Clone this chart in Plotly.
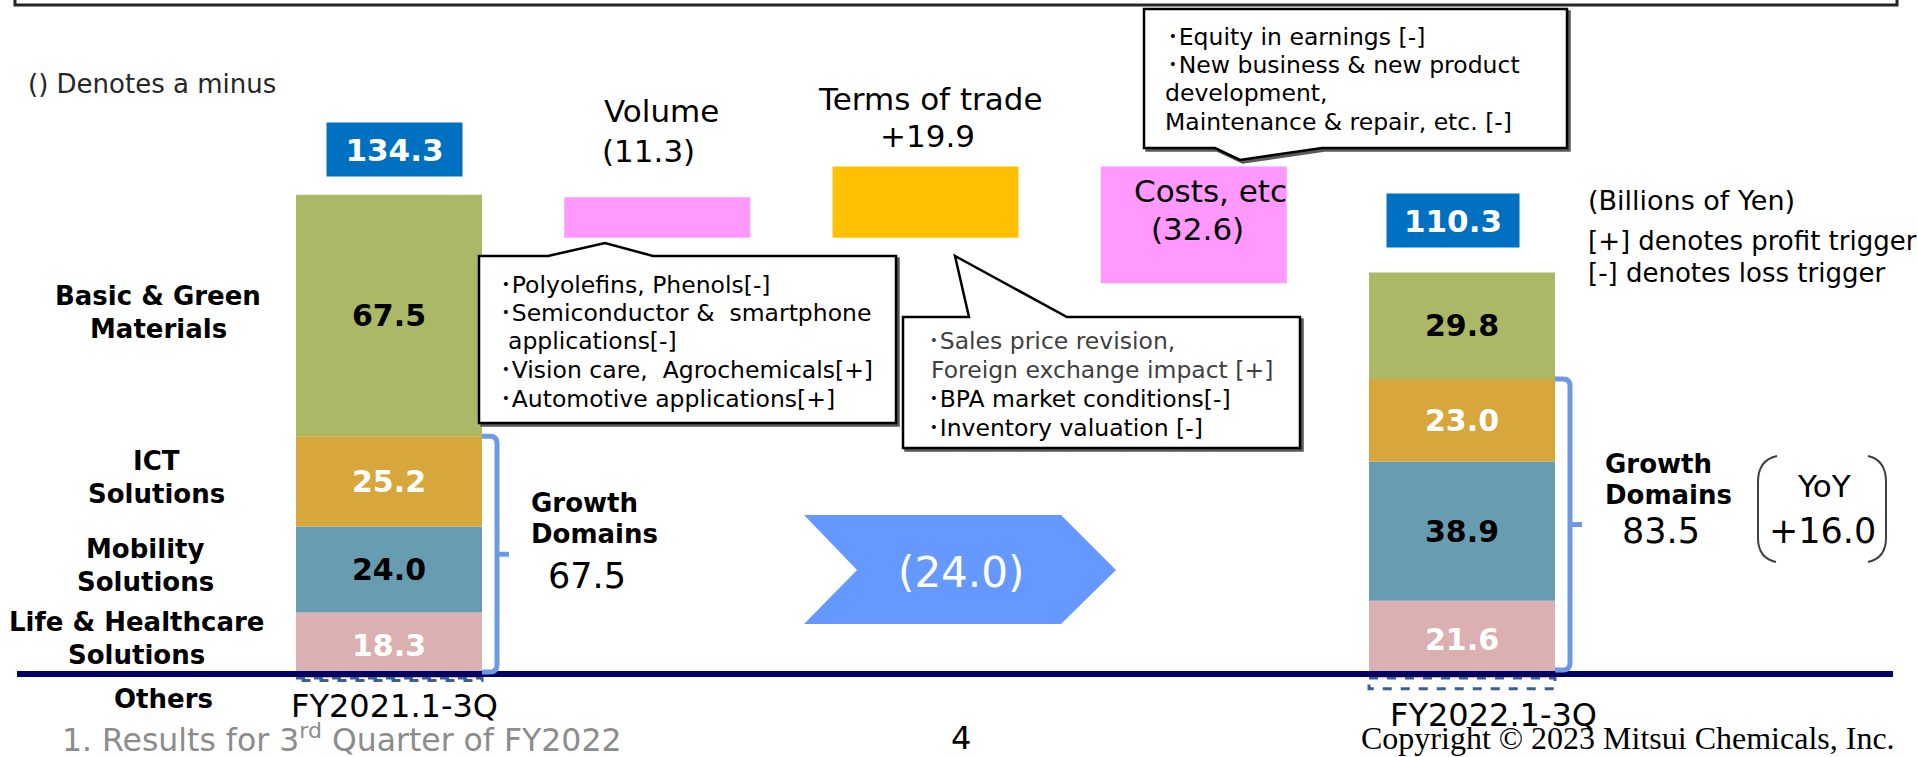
import plotly.graph_objects as go
import numpy as np

# ------------------------------------------------------------------ data
periods = ["FY2021.1-3Q", "FY2022.1-3Q"]
segment_names = ["Life & Healthcare\nSolutions", "Mobility\nSolutions",
                 "ICT\nSolutions", "Basic & Green\nMaterials"]
life = [18.3, 21.6]
mobility = [24.0, 38.9]
ict = [25.2, 23.0]
basic = [67.5, 29.8]
others = [-0.7, -3.0]
totals = [134.3, 110.3]

bridge_names = ["Volume", "Terms of trade", "Costs, etc"]
bridge_values = [-11.3, 19.9, -32.6]

callout_volume = ["･Polyolefins, Phenols[-]", "･Semiconductor &  smartphone",
                  "applications[-]", "･Vision care,  Agrochemicals[+]",
                  "･Automotive applications[+]"]
callout_terms = ["･Sales price revision,", "Foreign exchange impact [+]",
                 "･BPA market conditions[-]", "･Inventory valuation [-]"]
callout_costs = ["･Equity in earnings [-]", "･New business & new product",
                 "development,", "Maintenance & repair, etc. [-]"]
legend_notes = ["(Billions of Yen)", "[+] denotes profit trigger", "[-] denotes loss trigger"]

# ------------------------------------------------------------------ geometry / style
W, H = 1917, 757
Y0_PX, PPU = 678.0, 3.58          # pixel row of value 0, pixels per unit
FONT = "DejaVu Sans, Noto Sans CJK JP, sans-serif"
SERIF = "Liberation Serif, serif"
BAR_W = 186
X_START, STEP = 389, 268.25
pos = [X_START + STEP * i for i in range(5)]
seg_colors = ["#DBB0B1", "#689DB1", "#D7A73B", "#ABB966"]
seg_text_colors = ["white", "black", "white", "black"]
BRACKET = "#6C9BE3"


def px(x):
    return x / W


def py(y):
    return 1 - y / H


def v2y(v):
    return Y0_PX - v * PPU


def fmt(v):
    return f"+{v:.1f}" if v > 0 else f"({abs(v):.1f})"


fig = go.Figure()

# stacked segment bars
series = [life, mobility, ict, basic]
bases = np.zeros(2)
xs = [pos[0], pos[4]]
for vals, col, tcol in zip(series, seg_colors, seg_text_colors):
    fig.add_trace(go.Bar(
        x=xs, y=vals, base=bases.copy(), width=BAR_W,
        marker=dict(color=col, line=dict(width=0)),
        text=[f"<b>{v:.1f}</b>" for v in vals], textposition="inside",
        insidetextanchor="middle", textangle=0,
        textfont=dict(family=FONT, size=30, color=tcol),
        hoverinfo="skip", showlegend=False))
    bases = bases + np.array(vals)

# bridge (waterfall) bars
run = totals[0]
b_base = []
for v in bridge_values:
    b_base.append(run)
    run += v
fig.add_trace(go.Bar(
    x=pos[1:4], y=bridge_values, base=b_base, width=BAR_W,
    marker=dict(color=["#FFC000" if v > 0 else "#FF99FF" for v in bridge_values],
                line=dict(width=0)),
    hoverinfo="skip", showlegend=False))

shapes = []

# Others dashed boxes (from data)
for x, v in zip(xs, others):
    shapes.append(dict(type="rect", xref="x", yref="y", x0=x - BAR_W / 2, x1=x + BAR_W / 2,
                       y0=0, y1=v, line=dict(color="#3A6090", width=3, dash="dash"),
                       fillcolor="white"))

# top frame remnant
shapes.append(dict(type="rect", xref="paper", yref="paper", x0=px(15), x1=px(1897),
                   y0=py(5), y1=py(-40), line=dict(color="#262626", width=3)))

# baseline
shapes.append(dict(type="line", xref="paper", yref="paper", x0=px(17), x1=px(1893),
                   y0=py(674), y1=py(674), line=dict(color="#000066", width=6)))


def path(points, close=True, dx=0, dy=0):
    s = "M " + " L ".join(f"{px(x + dx):.5f},{py(y + dy):.5f}" for x, y in points)
    return s + (" Z" if close else "")


# callout boxes (with a slight drop shadow)
callout_polys = [
    [(479, 256), (548, 256), (605, 243), (653, 256), (896, 256), (896, 423), (479, 423)],
    [(903, 317), (969, 317), (955, 256), (1067, 317), (1300, 317), (1300, 448), (903, 448)],
    [(1144, 9), (1567, 9), (1567, 148), (1322, 148), (1240, 160), (1215, 148), (1144, 148)],
]
for poly in callout_polys:
    shapes.append(dict(type="path", xref="paper", yref="paper", path=path(poly, dx=2.5, dy=2.5),
                       fillcolor="#595959", line=dict(color="#595959", width=2.5)))
    shapes.append(dict(type="path", xref="paper", yref="paper", path=path(poly),
                       fillcolor="white", line=dict(color="black", width=2.5)))

# chevron arrow
shapes.append(dict(type="path", xref="paper", yref="paper",
                   path=path([(804, 515), (1061, 515), (1116, 570), (1061, 624), (804, 624), (857, 570)]),
                   fillcolor="#6699FF", line=dict(width=0)))

# growth-domain brackets
growth = [a + b + c for a, b, c in zip(life, mobility, ict)]
for x, g, yb in zip(xs, growth, [672, 670]):
    xe = x + BAR_W / 2
    xv = xe + 15
    yt = v2y(g)
    r = 7
    ym = (yt + yb) / 2
    p = (f"M {px(xe):.5f},{py(yt):.5f} L {px(xv - r):.5f},{py(yt):.5f} "
         f"Q {px(xv):.5f},{py(yt):.5f} {px(xv):.5f},{py(yt + r):.5f} "
         f"L {px(xv):.5f},{py(yb - r):.5f} Q {px(xv):.5f},{py(yb):.5f} {px(xv - r):.5f},{py(yb):.5f} "
         f"L {px(xe):.5f},{py(yb):.5f} M {px(xv):.5f},{py(ym):.5f} L {px(xe + 27):.5f},{py(ym):.5f}")
    shapes.append(dict(type="path", xref="paper", yref="paper", path=p,
                       line=dict(color=BRACKET, width=5)))

# YoY parentheses
for (x_top, x_edge, x_bot) in [(1777, 1758, 1776), (1868, 1886, 1868)]:
    p = (f"M {px(x_top):.5f},{py(456):.5f} Q {px(x_edge):.5f},{py(460):.5f} {px(x_edge):.5f},{py(482):.5f} "
         f"L {px(x_edge):.5f},{py(538):.5f} Q {px(x_edge):.5f},{py(558):.5f} {px(x_bot):.5f},{py(562):.5f}")
    shapes.append(dict(type="path", xref="paper", yref="paper", path=p,
                       line=dict(color="#404040", width=2)))

annotations = []


def text(x, base, s, size, color="black", xanchor="center", family=FONT, off=0.346):
    annotations.append(dict(x=px(x), y=py(base - off * size), xref="paper", yref="paper",
                            text=s, showarrow=False, xanchor=xanchor, yanchor="middle",
                            font=dict(family=family, size=size, color=color), borderpad=0))


def box(cx, cy, w, h, s, size, bg):
    annotations.append(dict(x=px(cx), y=py(cy), xref="paper", yref="paper", text=s,
                            showarrow=False, xanchor="center", yanchor="middle",
                            width=w, height=h, bgcolor=bg, borderpad=0, valign="middle",
                            font=dict(family=FONT, size=size, color="white")))


text(27, 93, "() Denotes a minus", 26, "#262626", "left")

# totals
box(394.5, 149.5, 135, 53, f"<b>{totals[0]:.1f}</b>", 31, "#0070C0")
box(1453, 220.5, 132, 53, f"<b>{totals[1]:.1f}</b>", 31, "#0070C0")

# bridge labels
bridge_label_pos = [((661, 122), (648, 162)), ((930, 110), (927, 147)), ((1210, 202), (1197, 240))]
for name, v, (p1, p2) in zip(bridge_names, bridge_values, bridge_label_pos):
    text(p1[0], p1[1], name, 31)
    text(p2[0], p2[1], fmt(v), 31)

# callout texts
for (x, b), s in zip([(499, 293), (499, 321), (507, 349), (499, 378), (499, 407)], callout_volume):
    text(x, b, s, 23.5, "black", "left")
for (x, b), s, c in zip([(927, 349), (930, 378), (927, 407), (927, 436)], callout_terms,
                        ["#3F3F3F", "#3F3F3F", "black", "black"]):
    text(x, b, s, 23.5, c, "left")
for (x, b), s in zip([(1166, 45), (1166, 73), (1164, 101), (1164, 130)], callout_costs):
    text(x, b, s, 23.5, "black", "left")

# legend notes
for (b, size), s in zip([(210, 27), (250, 26), (282, 26)], legend_notes):
    text(1587, b, s, size, "black", "left")

# segment labels on the left
seg_label_pos = [(136, 631), (145, 558), (156, 470), (158, 305)]
for name, (cx, b) in zip(segment_names, seg_label_pos):
    for k, line in enumerate(name.split("\n")):
        text(cx, b + k * 33, f"<b>{line}</b>", 26)
text(163, 708, "<b>Others</b>", 26)

# growth domains
for (gx, gb, vx, vb), g in zip([(530, 512, 547, 588), (1604, 473, 1621, 543)], growth):
    text(gx, gb, "<b>Growth</b>", 26, "black", "left")
    text(gx, gb + 31, "<b>Domains</b>", 26, "black", "left")
    text(vx, vb, f"{g:.1f}", 35, "black", "left")
text(1824, 497, "YoY", 31)
text(1822.5, 543, fmt(growth[1] - growth[0]), 35)

# arrow value
annotations.append(dict(x=px(961), y=py(572), xref="paper", yref="paper",
                        text=fmt(totals[1] - totals[0]), showarrow=False,
                        xanchor="center", yanchor="middle",
                        font=dict(family=FONT, size=42, color="white")))

# period labels
text(394, 717, periods[0], 32)
text(1493, 726, periods[1], 32)

# footer
text(61, 749, "1. Results for 3<sup>rd</sup> Quarter of FY2022", 31.5, "#8C8C8C", "left")
text(961, 749, "4", 32)
text(1896, 749, "Copyright © 2023 Mitsui Chemicals, Inc.", 32, "black", "right", SERIF, 0.3375)

fig.update_layout(
    width=W, height=H, margin=dict(l=0, r=0, t=0, b=0, pad=0),
    paper_bgcolor="white", plot_bgcolor="white",
    barmode="overlay", showlegend=False,
    xaxis=dict(range=[0, W], visible=False, fixedrange=True),
    yaxis=dict(range=[(Y0_PX - H) / PPU, Y0_PX / PPU], visible=False, fixedrange=True),
    shapes=shapes, annotations=annotations,
)

fig.write_html("out.html", config={"displayModeBar": False},
               post_script="document.body.style.margin='0';document.documentElement.style.overflow='hidden';")
